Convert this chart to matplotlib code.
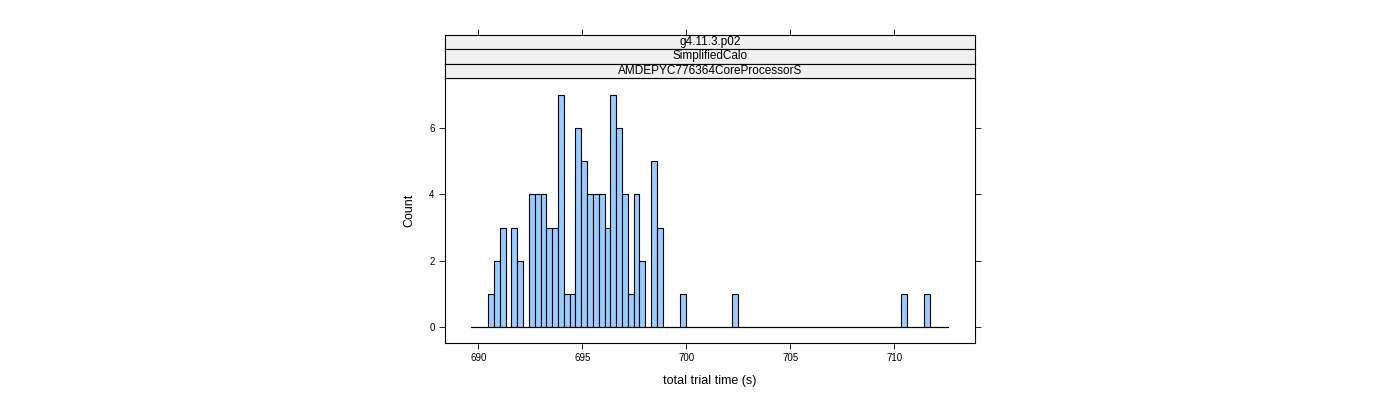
import matplotlib

matplotlib.use("Agg")
import matplotlib.pyplot as plt  # noqa: E402
import numpy as np  # noqa: E402

plt.rcParams["font.family"] = "Liberation Sans"

# histogram of total trial time, 82 equal bins
BIN_START = 689.64
BIN_WIDTH = 0.2795
COUNTS = [0, 0, 0, 1, 2, 3, 0, 3, 2, 0, 4, 4, 4, 3, 3, 7, 1, 1, 6, 5, 4, 4, 4, 3, 7, 6, 4, 1, 4, 2,
          0, 5, 3, 0, 0, 0, 1, 0, 0, 0, 0, 0, 0, 0, 0, 1, 0, 0, 0, 0, 0, 0, 0, 0, 0, 0, 0, 0, 0, 0,
          0, 0, 0, 0, 0, 0, 0, 0, 0, 0, 0, 0, 0, 0, 1, 0, 0, 0, 1, 0, 0, 0]
STRIPS = ["g4.11.3.p02", "SimplifiedCalo", "AMDEPYC776364CoreProcessorS"]
XTICKS = [690, 695, 700, 705, 710]
YTICKS = [0, 2, 4, 6]

W, H = 1400, 400
fig = plt.figure(figsize=(14, 4), dpi=100)


def frac(x0, y0, x1, y1):
    return [x0 / W, 1 - y1 / H, (x1 - x0) / W, (y1 - y0) / H]


ax = fig.add_axes(frac(445, 78, 975, 343))
edges = BIN_START + BIN_WIDTH * np.arange(len(COUNTS) + 1)
ax.bar(edges[:-1], COUNTS, width=BIN_WIDTH, align="edge", color="#99ccff",
       edgecolor="black", linewidth=0.8)
ax.plot([edges[0], edges[-1]], [0, 0], color="black", lw=0.8)
ax.set_xlim(688.4, 713.88)
ax.set_ylim(-0.48, 7.51)
ax.set_xticks(XTICKS)
ax.set_yticks(YTICKS)
ax.tick_params(axis="both", labelsize=7, direction="out", length=4, width=0.6,
               right=True, left=True)
ax.set_xlabel("total trial time (s)", fontsize=9, labelpad=8)
ax.set_ylabel("Count", fontsize=9, labelpad=10)
for s in ax.spines.values():
    s.set_linewidth(0.8)

sh = (78 - 35) / 3
for i, txt in enumerate(STRIPS):
    sa = fig.add_axes(frac(445, 35 + i * sh, 975, 35 + (i + 1) * sh))
    sa.set_facecolor("#f0f0f0")
    sa.set_xlim(ax.get_xlim())
    sa.set_yticks([])
    if i == 0:
        sa.set_xticks(XTICKS)
        sa.tick_params(axis="x", top=True, bottom=False, labeltop=False,
                       labelbottom=False, direction="out", length=4, width=0.6)
    else:
        sa.set_xticks([])
    for s in sa.spines.values():
        s.set_linewidth(0.8)
    sa.text(0.5, 0.5, txt, transform=sa.transAxes, ha="center", va="center", fontsize=8.5)

fig.savefig("out.png", dpi=100)
